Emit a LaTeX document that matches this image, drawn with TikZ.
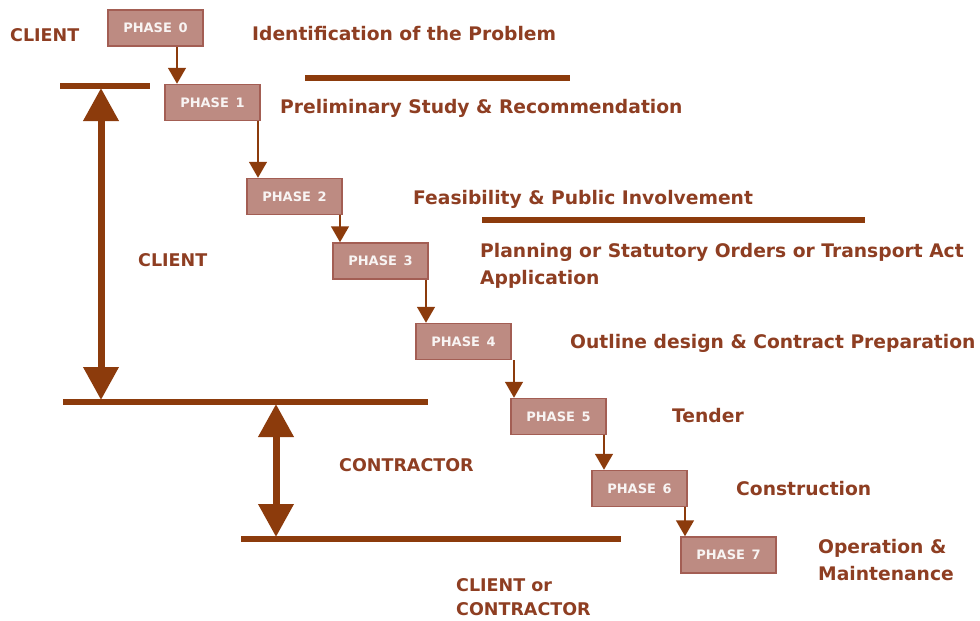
\documentclass[tikz,border=0pt]{standalone}
\usepackage{fontspec}
\setmainfont{DejaVu Sans}
\usetikzlibrary{arrows.meta}
\definecolor{txt}{HTML}{8E3E22}
\definecolor{ln}{HTML}{8C3B0C}
\definecolor{boxfill}{HTML}{BD8B82}
\definecolor{boxdraw}{HTML}{A35E54}
\begin{document}
\begin{tikzpicture}[x=1pt,y=-1pt,
  phasebox/.style={draw=boxdraw,line width=1.5pt,fill=boxfill,text=white!90!boxfill,
    minimum width=95pt,minimum height=36pt,inner sep=0pt,font=\fontsize{13}{13}\selectfont\bfseries},
  conn/.style={draw=ln,line width=1.5pt,-{Triangle[width=18pt,length=16pt]}},
  bigarrow/.style={draw=ln,line width=7pt,{Triangle[width=34pt,length=33pt]}-{Triangle[width=34pt,length=33pt]},shorten <=-1pt,shorten >=-1pt},
  hline/.style={draw=ln,line width=5.5pt},
  title/.style={anchor=west,text=txt,font=\fontsize{18.7}{27}\selectfont\bfseries,inner sep=0pt,align=left},
  role/.style={anchor=west,text=txt,font=\fontsize{17.5}{24}\selectfont\bfseries,inner sep=0pt,align=left}]
\useasboundingbox (0,0) rectangle (980,621);
% phase boxes
\node[phasebox] (p0) at (155.5,28) {PHASE\ \,0};
\node[phasebox] (p1) at (212.5,102.5) {PHASE\ \,1};
\node[phasebox] (p2) at (294.5,196.5) {PHASE\ \,2};
\node[phasebox] (p3) at (380.5,261) {PHASE\ \,3};
\node[phasebox] (p4) at (463.5,341.5) {PHASE\ \,4};
\node[phasebox] (p5) at (558.5,416.5) {PHASE\ \,5};
\node[phasebox] (p6) at (639.5,488.5) {PHASE\ \,6};
\node[phasebox] (p7) at (728.5,555) {PHASE\ \,7};
% connectors
\draw[conn] (p0.south -| 177,0) -- (p1.north -| 177,0);
\draw[conn] (p1.south -| 258,0) -- (p2.north -| 258,0);
\draw[conn] (p2.south -| 340,0) -- (p3.north -| 340,0);
\draw[conn] (p3.south -| 426,0) -- (p4.north -| 426,0);
\draw[conn] (p4.south -| 514,0) -- (p5.north -| 514,0);
\draw[conn] (p5.south -| 604,0) -- (p6.north -| 604,0);
\draw[conn] (p6.south -| 685,0) -- (p7.north -| 685,0);
% horizontal lines
\coordinate (l1a) at (305,78); \coordinate (l1b) at (570,78);
\coordinate (l2a) at (482,220); \coordinate (l2b) at (865,220);
\coordinate (l3a) at (60,86); \coordinate (l3b) at (150,86);
\coordinate (l4a) at (63,402); \coordinate (l4b) at (428,402);
\coordinate (l5a) at (241,539); \coordinate (l5b) at (621,539);
\draw[hline] (l1a) -- (l1b);
\draw[hline] (l2a) -- (l2b);
\draw[hline] (l3a) -- (l3b);
\draw[hline] (l4a) -- (l4b);
\draw[hline] (l5a) -- (l5b);
% big arrows
\coordinate (a1t) at (101,89); \coordinate (a1b) at (101,399);
\coordinate (a2t) at (276,405); \coordinate (a2b) at (276,536);
\draw[bigarrow] (a1t) -- (a1b);
\draw[bigarrow] (a2t) -- (a2b);
% titles
\node[title] (t0) at (252,34) {Identification of the Problem};
\node[title] (t1) at (280,108) {Preliminary Study \& Recommendation};
\node[title] (t2) at (413,199) {Feasibility \& Public Involvement};
\node[title] (t3) at (480,266) {Planning or Statutory Orders or Transport Act\\Application};
\node[title] (t4) at (570,343) {Outline design \& Contract Preparation};
\node[title] (t5) at (672,416) {Tender};
\node[title] (t6) at (736,489) {Construction};
\node[title] (t7) at (818,560) {Operation \&\\Maintenance};
% roles
\node[role] (r0) at (10,35) {CLIENT};
\node[role] (r1) at (138,260) {CLIENT};
\node[role] (r2) at (339,465) {CONTRACTOR};
\node[role] (r3) at (456,597) {CLIENT or\\CONTRACTOR};
\end{tikzpicture}
\end{document}
